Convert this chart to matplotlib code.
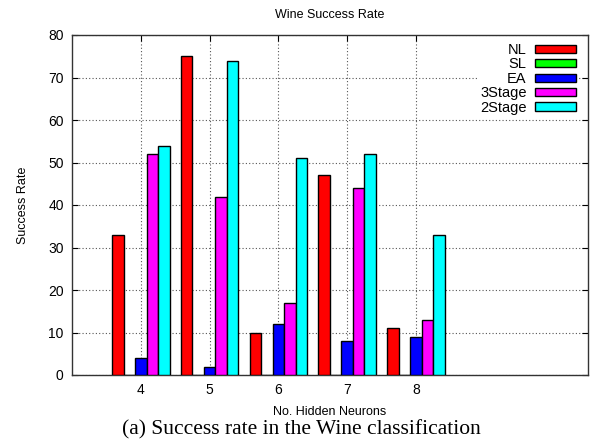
import numpy as np
import matplotlib
matplotlib.use("Agg")
import matplotlib.pyplot as plt
from matplotlib.patches import Rectangle

neurons = [4, 5, 6, 7, 8]
series_names = ["NL", "SL", "EA", "3Stage", "2Stage"]
nl = [33, 75, 10, 47, 11]
sl = [0, 0, 0, 0, 0]
ea = [4, 2, 12, 8, 9]
stage3 = [52, 42, 17, 44, 13]
stage2 = [54, 74, 51, 52, 33]
colors = ["#ff0000", "#00ff00", "#0000ff", "#ff00ff", "#00ffff"]

plt.rcParams["font.family"] = ["Liberation Sans", "DejaVu Sans"]

fig = plt.figure(figsize=(5.93, 4.41), dpi=100)
ax = fig.add_axes([72 / 593, 1 - 375 / 441, (588 - 72) / 593, (375 - 35) / 441])

width = 0.167
x = np.array(neurons, dtype=float)
for i, (vals, c) in enumerate(zip([nl, sl, ea, stage3, stage2], colors)):
    ax.bar(x + (i - 2) * width, vals, width=width, color=c,
           edgecolor="black", linewidth=1.0, zorder=3)

ax.set_xlim(3, 10.5)
ax.set_ylim(0, 80)
ax.set_xticks(neurons)
ax.set_yticks(range(0, 81, 10))
ax.tick_params(direction="in", top=True, right=True, length=4,
               labelsize=10, pad=6)
ax.grid(True, linestyle=(0, (1, 2)), color="#555555", linewidth=0.8, zorder=0)
for s in ax.spines.values():
    s.set_linewidth(1.0)
    s.set_color("#333333")

ax.set_title("Wine Success Rate", fontsize=9, pad=12)
ax.set_xlabel("No. Hidden Neurons", fontsize=9, labelpad=6)
ax.set_ylabel("Success Rate", fontsize=9, labelpad=14)

handles = [Rectangle((0, 0), 1, 1, facecolor=c, edgecolor="black", linewidth=1.0)
           for c in colors]
leg = ax.legend(handles, series_names, loc="upper right",
                bbox_to_anchor=(0.9826, 0.985), borderaxespad=0,
                markerfirst=False, fontsize=10.5, frameon=True,
                framealpha=1.0, edgecolor="none",
                handlelength=2.8, handleheight=0.5, labelspacing=0.03,
                handletextpad=0.6, borderpad=0.2)
leg.get_frame().set_linewidth(0)
for t in leg.get_texts():
    t.set_ha("right")
leg.set_zorder(5)

fig.text(0.508, 1 - 430 / 441, "(a) Success rate in the Wine classification",
         ha="center", va="center", fontsize=15.5, family="Liberation Serif")

fig.savefig("out.png", dpi=100)
